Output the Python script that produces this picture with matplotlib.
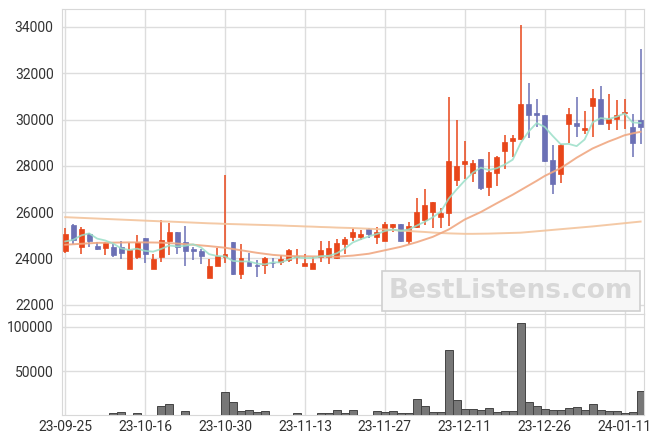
import numpy as np
import pandas as pd
import matplotlib.pyplot as plt

plt.rcParams['font.family'] = ['Roboto', 'DejaVu Sans']

# daily candles (index = trading day)
tick_labels = ['23-09-25', '23-10-16', '23-10-30', '23-11-13',
               '23-11-27', '23-12-11', '23-12-26', '24-01-11']
tick_pos = [0, 10, 20, 30, 40, 50, 60, 70]

opens = [24300, 25450, 24510, 25060, 24540, 24430, 24500, 24490, 23560, 24040,
         24870, 23560, 24040, 24730, 25130, 24700, 24400, 24330, 23170, 23690,
         24080, 24700, 23320, 23840, 23710, 23730, 23820, 23850, 23940, 24040,
         23690, 23550, 24040, 24040, 24010, 24630, 24930, 24920, 25280, 24940,
         24770, 25350, 25490, 24770, 25350, 25670, 26000, 25770, 25960, 27370,
         28060, 27710, 28290, 27080, 27710, 28660, 29050, 29160, 30680, 30280,
         30190, 28260, 27630, 29820, 29850, 29530, 30570, 30890, 29830, 30020,
         30270, 29680, 29990]
highs = [25330, 25480, 25350, 25080, 24720, 24700, 24620, 24730, 24680, 25020,
         24870, 24180, 25640, 25520, 25150, 25410, 24510, 24400, 23970, 24440,
         27600, 24700, 24630, 24230, 23910, 24060, 24010, 24150, 24410, 24400,
         24180, 24050, 24760, 24770, 24830, 24920, 25310, 25230, 25300, 25350,
         25590, 25500, 25500, 25570, 26600, 26990, 26450, 26170, 30960, 29990,
         29050, 28260, 28300, 28590, 28430, 29330, 29340, 34070, 31580, 30890,
         30200, 28880, 28920, 30490, 30970, 30380, 31320, 31430, 31100, 30860,
         30900, 30240, 33050]
lows = [24250, 24620, 24200, 24510, 24380, 24150, 24050, 23970, 23540, 23990,
        23800, 23560, 23860, 24150, 24200, 23690, 23940, 23760, 23170, 23690,
        23800, 23300, 23100, 23680, 23210, 23320, 23580, 23710, 23840, 23760,
        23690, 23550, 23840, 23760, 23980, 24180, 24770, 24800, 24880, 24630,
        24750, 25160, 24710, 24630, 25300, 25450, 25330, 25330, 25410, 27110,
        27440, 27320, 26960, 26700, 27110, 27860, 28400, 29100, 29200, 29680,
        28150, 26790, 27250, 28980, 29240, 29370, 29240, 29790, 29560, 29560,
        29600, 28380, 28950]
closes = [25060, 24800, 25280, 24730, 24400, 24660, 24140, 24230, 24370, 24700,
          24180, 23970, 24800, 25130, 24510, 24300, 24300, 24120, 23680, 24120,
          24200, 23320, 24010, 23690, 23650, 24020, 23780, 23990, 24340, 24120,
          23820, 23810, 24370, 24440, 24660, 24850, 25130, 25060, 25060, 25160,
          25490, 25490, 24730, 25380, 26000, 26320, 26430, 25960, 28210, 28000,
          28210, 28120, 27040, 27730, 28360, 29010, 29180, 30680, 30180, 30180,
          28190, 27230, 28880, 30250, 29700, 29620, 30930, 29810, 30030, 30210,
          30340, 28980, 29680]
volumes = [700, 700, 700, 300, 300, 300, 1900, 3000, 300, 1900,
           700, 700, 9800, 13200, 700, 4500, 700, 300, 700, 300,
           25800, 14400, 4500, 5700, 3400, 4500, 300, 700, 700, 1900,
           300, 300, 1900, 1900, 5300, 1900, 5300, 700, 300, 4200,
           3000, 4200, 1900, 1900, 17800, 9800, 3000, 3000, 73500, 16700,
           6400, 6400, 5300, 7600, 3000, 4200, 4200, 104200, 14400, 9800,
           6400, 5300, 5300, 7600, 8700, 5300, 13200, 5300, 4200, 4200,
           1900, 3000, 26900]

# moving averages (5-day uses prior history for first days)
ma5_head = [24730, 24800, 24990, 25080]
ma20 = [24590, 24610, 24630, 24650, 24670, 24675, 24680, 24685, 24690, 24690,
        24690, 24685, 24680, 24660, 24640, 24615, 24590, 24560, 24530, 24495,
        24460, 24405, 24350, 24295, 24240, 24195, 24150, 24125, 24100, 24095,
        24090, 24085, 24080, 24075, 24070, 24095, 24120, 24160, 24200, 24275,
        24350, 24425, 24500, 24600, 24700, 24815, 24930, 25090, 25250, 25465,
        25680, 25840, 26000, 26190, 26380, 26565, 26750, 26950, 27150, 27350,
        27560, 27730, 27900, 28120, 28350, 28550, 28750, 28900, 29050, 29180,
        29320, 29400, 29470]
ma_long = [25780, 25765, 25750, 25735, 25720, 25705, 25690, 25675, 25660, 25645,
           25630, 25615, 25600, 25590, 25575, 25560, 25545, 25530, 25515, 25505,
           25490, 25480, 25470, 25460, 25450, 25440, 25430, 25420, 25405, 25395,
           25380, 25370, 25355, 25345, 25330, 25320, 25310, 25295, 25280, 25265,
           25250, 25225, 25200, 25180, 25160, 25140, 25115, 25095, 25080, 25070,
           25060, 25060, 25065, 25070, 25080, 25090, 25100, 25110, 25140, 25170,
           25200, 25230, 25260, 25290, 25320, 25350, 25380, 25415, 25450, 25485,
           25520, 25555, 25590]

df = pd.DataFrame({'open': opens, 'high': highs, 'low': lows,
                   'close': closes, 'volume': volumes})
x = np.arange(len(df))
ma5 = df['close'].rolling(5).mean().values
ma5[:4] = ma5_head

up_col = '#e8461a'
down_col = '#6b70b5'
grid_col = '#dddddd'
text_col = '#333333'

fig = plt.figure(figsize=(6.63, 4.44), dpi=100)
ax = fig.add_axes([0.0935, 0.293, 0.8775, 0.687])
axv = fig.add_axes([0.0935, 0.065, 0.8775, 0.228], sharex=ax)

up = df['close'] >= df['open']
cols = np.where(up, up_col, down_col)

ax.vlines(x, df['low'], df['high'], colors=cols, linewidth=1.1, zorder=2)
body_lo = np.minimum(df['open'], df['close'])
body_h = np.maximum(np.abs(df['close'] - df['open']), 40)
ax.bar(x, body_h, bottom=body_lo, width=0.62, color=cols, edgecolor=cols,
       linewidth=0.5, zorder=3)

ax.plot(x, ma_long, color='#f3c49c', linewidth=1.4, alpha=0.9, zorder=4)
ax.plot(x, ma20, color='#f0a882', linewidth=1.4, alpha=0.9, zorder=4)
ax.plot(x, ma5, color='#9adfc8', linewidth=1.3, alpha=0.85, zorder=4)

ax.set_xlim(-0.4, 72.4)
ax.set_ylim(21600, 34780)
ax.set_yticks(np.arange(22000, 34001, 2000))
ax.grid(True, color=grid_col, linewidth=1)
ax.set_axisbelow(True)
ax.tick_params(axis='x', labelbottom=False, length=0)
ax.tick_params(axis='y', length=0, labelsize=10, colors=text_col, pad=6)

# watermark
ax.text(0.772, 0.075, 'BestListens.com', transform=ax.transAxes,
        ha='center', va='center', fontsize=19, fontweight='bold',
        family='DejaVu Sans', color='#d8d8d8', zorder=1,
        bbox=dict(boxstyle='square,pad=0.25', facecolor='#f7f7f7',
                  edgecolor='#d0d0d0', linewidth=1.2))

axv.bar(x, df['volume'], width=1.0, color='#777777', edgecolor='#444444',
        linewidth=0.7, zorder=3)
axv.set_ylim(0, 114800)
axv.set_yticks([50000, 100000])
axv.set_xticks(tick_pos)
axv.set_xticklabels(tick_labels)
axv.grid(True, color=grid_col, linewidth=1)
axv.set_axisbelow(True)
axv.tick_params(length=0, labelsize=10, colors=text_col)
axv.tick_params(axis='y', pad=6)

for a in (ax, axv):
    for s in a.spines.values():
        s.set_color('#d8d8d8')

fig.savefig('out.png', dpi=100, facecolor='white')
